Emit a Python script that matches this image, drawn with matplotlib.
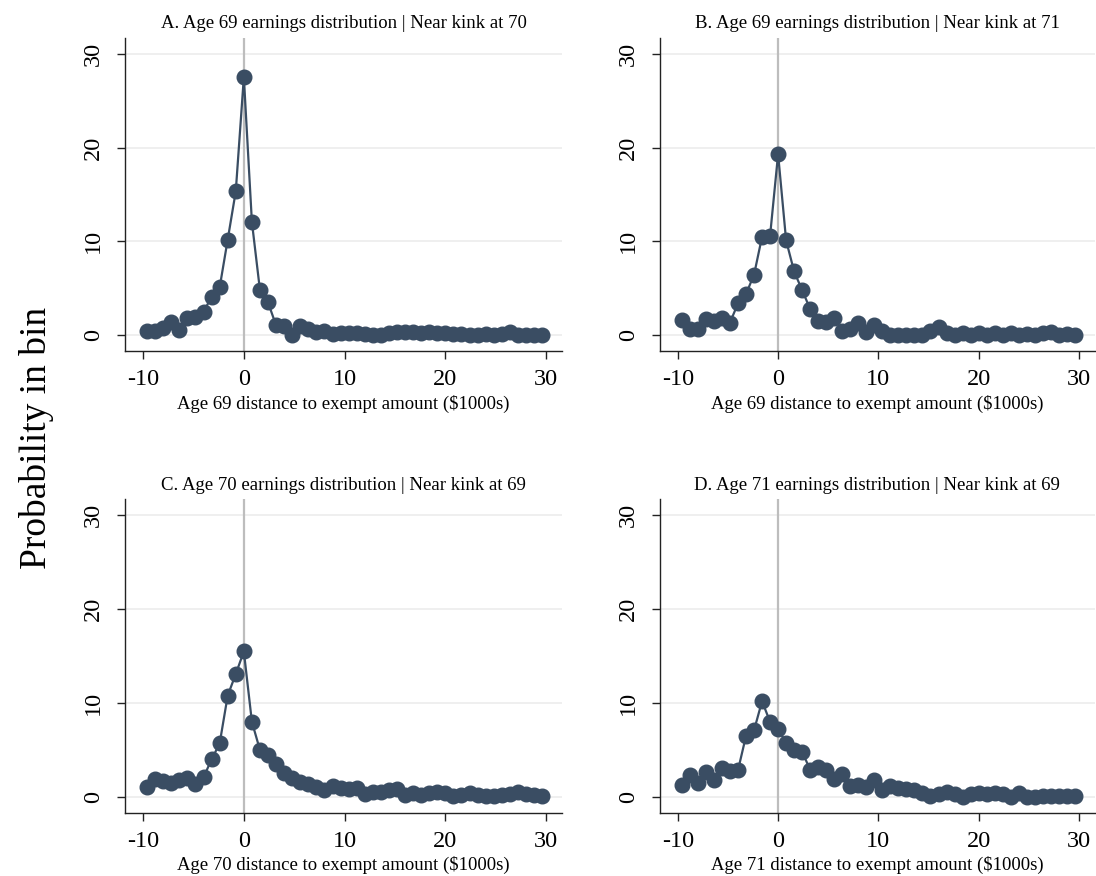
import numpy as np
import matplotlib.pyplot as plt

plt.rcParams['font.family'] = ['Liberation Serif', 'DejaVu Serif']
plt.rcParams['axes.unicode_minus'] = False

# bin midpoints, $1000s relative to the exempt amount
bins = np.round(np.arange(-9.6, 29.61, 0.8), 1)

prob_a = [0.5, 0.5, 0.8, 1.4, 0.6, 1.8, 1.95, 2.5, 4.1, 5.1, 10.2, 15.35, 27.5,
          12.06, 4.8, 3.5, 1.06, 1.0, 0.0, 1.0, 0.7, 0.3, 0.5, 0.1, 0.2,
          0.2, 0.2, 0.1, 0.0, 0.0, 0.2, 0.4, 0.3, 0.3, 0.2, 0.3, 0.2, 0.2,
          0.1, 0.1, 0.0, 0.0, 0.1, 0.0, 0.1, 0.3, 0.0, 0.0, 0.0, 0.0]

prob_b = [1.6, 0.7, 0.7, 1.7, 1.5, 1.8, 1.35, 3.4, 4.4, 6.45, 10.5, 10.6, 19.3,
          10.1, 6.8, 4.8, 2.8, 1.5, 1.4, 1.8, 0.5, 0.7, 1.3, 0.35, 1.1,
          0.45, 0.0, 0.0, 0.0, 0.0, 0.0, 0.5, 0.9, 0.2, 0.0, 0.2, 0.0, 0.2,
          0.0, 0.2, 0.0, 0.2, 0.0, 0.1, 0.0, 0.2, 0.3, 0.0, 0.1, 0.0]

prob_c = [1.1, 1.95, 1.65, 1.5, 1.8, 2.05, 1.4, 2.1, 4.0, 5.7, 10.8, 13.1, 15.5,
          8.0, 5.0, 4.5, 3.5, 2.6, 2.05, 1.6, 1.4, 1.1, 0.75, 1.2, 1.0,
          0.9, 1.0, 0.3, 0.55, 0.55, 0.75, 0.9, 0.2, 0.4, 0.2, 0.45, 0.55, 0.4,
          0.05, 0.2, 0.4, 0.2, 0.1, 0.05, 0.2, 0.3, 0.55, 0.3, 0.2, 0.05]

prob_d = [1.3, 2.3, 1.5, 2.65, 1.8, 3.1, 2.75, 2.85, 6.5, 7.1, 10.2, 8.0, 7.2,
          5.8, 5.05, 4.8, 2.9, 3.2, 2.9, 1.9, 2.4, 1.2, 1.3, 1.1, 1.8,
          0.75, 1.2, 1.0, 0.8, 0.7, 0.45, 0.1, 0.35, 0.55, 0.3, 0.0, 0.35, 0.45,
          0.3, 0.45, 0.3, 0.0, 0.45, 0.0, 0.0, 0.1, 0.1, 0.1, 0.1, 0.1]

titles = ["A. Age 69 earnings distribution | Near kink at 70",
          "B. Age 69 earnings distribution | Near kink at 71",
          "C. Age 70 earnings distribution | Near kink at 69",
          "D. Age 71 earnings distribution | Near kink at 69"]
xlabels = ["Age 69 distance to exempt amount ($1000s)",
           "Age 69 distance to exempt amount ($1000s)",
           "Age 70 distance to exempt amount ($1000s)",
           "Age 71 distance to exempt amount ($1000s)"]

series = [prob_a, prob_b, prob_c, prob_d]
boxes = [[0.114, 0.599, 0.399, 0.358],
         [0.602, 0.599, 0.397, 0.358],
         [0.114, 0.072, 0.399, 0.358],
         [0.602, 0.072, 0.397, 0.358]]

dot = '#3a4d63'

fig = plt.figure(figsize=(10.96, 8.76), dpi=100)

for box, y, title, xlab in zip(boxes, series, titles, xlabels):
    ax = fig.add_axes(box)
    ax.axvline(0, color='#bdbdbd', lw=1.6, zorder=1)
    ax.plot(bins, y, color=dot, lw=1.6, marker='o', ms=10.5,
            markeredgecolor=dot, zorder=3)
    ax.set_xlim(-11.8, 31.6)
    ax.set_ylim(-1.7, 31.7)
    ax.set_xticks([-10, 0, 10, 20, 30])
    ax.set_yticks([0, 10, 20, 30])
    ax.grid(axis='y', color='#ececec', lw=1.2)
    ax.set_axisbelow(True)
    for s in ['top', 'right']:
        ax.spines[s].set_visible(False)
    for s in ['left', 'bottom']:
        ax.spines[s].set_color('#222222')
        ax.spines[s].set_linewidth(1.0)
    ax.tick_params(direction='out', length=6, width=1.0, color='#222222',
                   labelsize=17.5)
    ax.tick_params(axis='x', pad=7)
    ax.tick_params(axis='y', pad=9)
    for lab in ax.get_yticklabels():
        lab.set_rotation(90)
        lab.set_va('center')
    ax.set_title(title, fontsize=13.5, pad=7)
    ax.set_xlabel(xlab, fontsize=13.5, labelpad=3)

fig.text(0.033, 0.5, "Probability in bin", rotation=90, fontsize=27,
         ha='center', va='center')

fig.savefig('out.png', dpi=100)
